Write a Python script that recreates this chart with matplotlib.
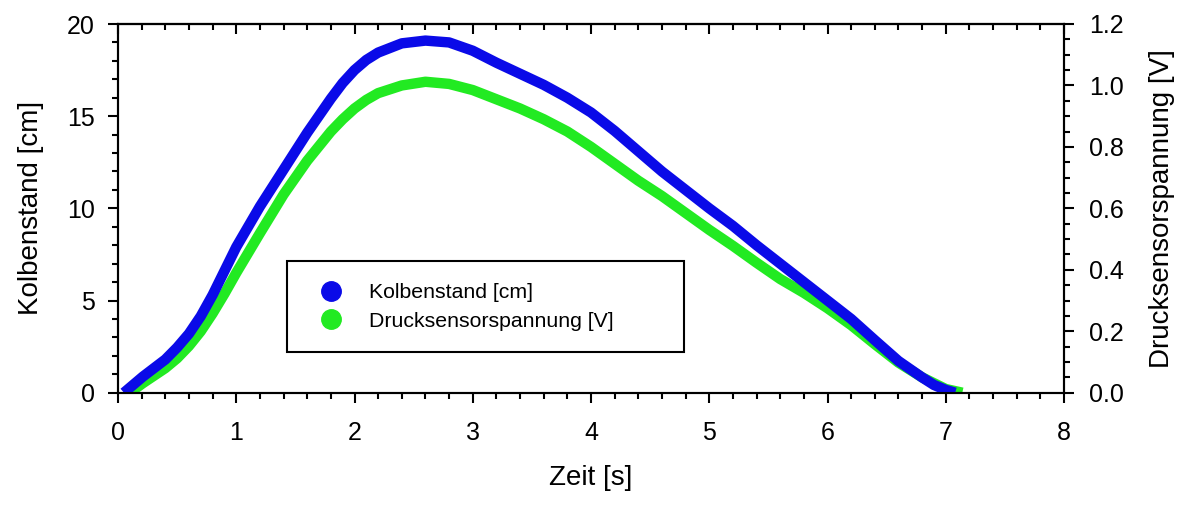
import matplotlib
matplotlib.use("Agg")
import matplotlib.pyplot as plt
from matplotlib.lines import Line2D
from matplotlib.ticker import MultipleLocator, FormatStrFormatter

plt.rcParams["font.family"] = ["Liberation Sans", "DejaVu Sans"]

# Kolbenstand [cm] (blue band, left axis)
t_kolben = [0.05, 0.21, 0.4, 0.5, 0.6, 0.7, 0.8, 0.9, 1.0, 1.2, 1.4, 1.6, 1.8,
            1.9, 2.0, 2.1, 2.2, 2.4, 2.6, 2.8, 3.0, 3.2, 3.4, 3.6, 3.8, 4.0,
            4.2, 4.4, 4.6, 4.8, 5.0, 5.2, 5.4, 5.6, 5.8, 6.0, 6.2, 6.4, 6.6,
            6.8, 6.9, 7.0, 7.08]
kolben_cm = [0.0, 0.87, 1.8, 2.45, 3.2, 4.15, 5.3, 6.6, 7.9, 10.1, 12.1,
             14.1, 15.95, 16.8, 17.5, 18.05, 18.45, 18.95, 19.1, 19.0, 18.55,
             17.9, 17.3, 16.7, 16.0, 15.2, 14.2, 13.1, 12.0, 11.0, 10.0, 9.05,
             8.0, 7.0, 6.0, 5.0, 4.0, 2.85, 1.72, 0.83, 0.42, 0.15, 0.0]

# Drucksensorspannung [V] (green band, right axis)
t_druck = [0.1, 0.21, 0.4, 0.5, 0.6, 0.7, 0.8, 0.9, 1.0, 1.2, 1.4, 1.6, 1.8,
           1.9, 2.0, 2.1, 2.2, 2.4, 2.6, 2.8, 3.0, 3.2, 3.4, 3.6, 3.8, 4.0,
           4.2, 4.4, 4.6, 4.8, 5.0, 5.2, 5.4, 5.6, 5.8, 6.0, 6.2, 6.4, 6.6,
           6.8, 7.0, 7.14]
druck_v = [0.0, 0.031, 0.080, 0.112, 0.152, 0.20, 0.258, 0.322, 0.39, 0.519,
           0.645, 0.755, 0.85, 0.89, 0.925, 0.953, 0.975, 1.0, 1.012, 1.005,
           0.985, 0.955, 0.925, 0.89, 0.85, 0.80, 0.745, 0.69, 0.64, 0.585,
           0.53, 0.478, 0.423, 0.37, 0.325, 0.275, 0.22, 0.158, 0.098, 0.05,
           0.012, 0.0]

labels = ["Kolbenstand [cm]", "Drucksensorspannung [V]"]
BLUE = "#0a0ae8"
GREEN = "#22ea22"

fig = plt.figure(figsize=(11.95, 5.05), dpi=100)
ax = fig.add_axes([118 / 1195, 112.3 / 505, 946 / 1195, 368.7 / 505])
ax2 = ax.twinx()

# green under blue, like in the original
ax.set_zorder(ax2.get_zorder() + 1)
ax.patch.set_visible(False)
ax2.plot(t_druck, druck_v, color=GREEN, lw=7.5, solid_capstyle="butt",
         solid_joinstyle="round")
ax.plot(t_kolben, kolben_cm, color=BLUE, lw=7.5, solid_capstyle="butt",
        solid_joinstyle="round")

ax.set_xlim(0, 8)
ax.set_ylim(0, 20)
ax2.set_ylim(0, 1.2)

ax.xaxis.set_major_locator(MultipleLocator(1))
ax.xaxis.set_minor_locator(MultipleLocator(0.2))
ax.yaxis.set_major_locator(MultipleLocator(5))
ax.yaxis.set_minor_locator(MultipleLocator(1))
ax2.yaxis.set_major_locator(MultipleLocator(0.2))
ax2.yaxis.set_minor_locator(MultipleLocator(0.05))
ax2.yaxis.set_major_formatter(FormatStrFormatter("%.1f"))

lw = 1.5
for a in (ax, ax2):
    for s in a.spines.values():
        s.set_linewidth(lw)
ax.tick_params(axis="both", which="major", direction="out", length=7.5,
               width=lw, labelsize=18)
ax.tick_params(axis="both", which="minor", direction="out", length=4.5,
               width=lw)
ax.tick_params(axis="x", which="major", pad=13)
ax.tick_params(axis="y", which="major", pad=9)
ax2.tick_params(axis="y", which="major", direction="out", length=7,
                width=lw, labelsize=18, pad=11)
ax2.tick_params(axis="y", which="minor", direction="out", length=4.5,
                width=lw)

# top ticks point inward
top = ax.secondary_xaxis("top")
top.xaxis.set_major_locator(MultipleLocator(1))
top.xaxis.set_minor_locator(MultipleLocator(0.2))
top.tick_params(which="major", direction="in", length=7.5, width=lw,
                labeltop=False)
top.tick_params(which="minor", direction="in", length=4.5, width=lw)
top.spines["top"].set_linewidth(lw)

ax.set_xlabel("Zeit [s]", fontsize=20, labelpad=14)
ax.set_ylabel("Kolbenstand [cm]", fontsize=20, labelpad=17)
ax2.set_ylabel("Drucksensorspannung [V]", fontsize=20, labelpad=18)

# legend in a square black box
box = plt.Rectangle((0.1787, 0.110), 0.4196, 0.247, transform=ax.transAxes,
                    fill=False, edgecolor="black", linewidth=1.5, zorder=5)
ax.add_patch(box)
handles = [Line2D([], [], ls="", marker="o", ms=14, color=BLUE),
           Line2D([], [], ls="", marker="o", ms=14, color=GREEN)]
ax.legend(handles, labels, loc="upper left", bbox_to_anchor=(0.2139, 0.297),
          frameon=False, fontsize=15.3, borderpad=0, borderaxespad=0,
          handlelength=1.0, handletextpad=1.3, labelspacing=0.45)

fig.savefig("out.png", dpi=100)
